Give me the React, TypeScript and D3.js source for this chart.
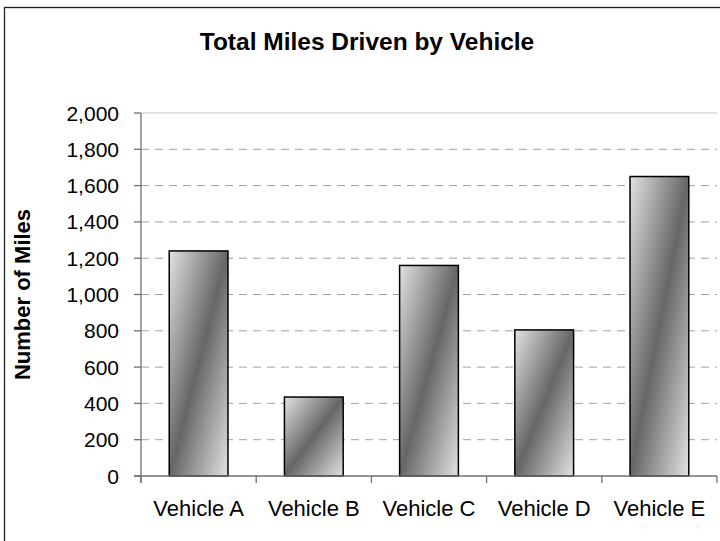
import * as d3 from "d3";

const WIDTH = 720;
const HEIGHT = 541;

const categories = ["Vehicle A", "Vehicle B", "Vehicle C", "Vehicle D", "Vehicle E"];
const miles = [1240, 435, 1160, 805, 1650];
const yTicks = [0, 200, 400, 600, 800, 1000, 1200, 1400, 1600, 1800, 2000];

const PLOT = { left: 141, right: 717, top: 113, bottom: 476 };
const FONT = "'Liberation Sans', Arial, sans-serif";

export default function App() {
  const xScale = d3
    .scaleBand<string>()
    .domain(categories)
    .range([PLOT.left, PLOT.right])
    .padding(0);
  const yScale = d3.scaleLinear().domain([0, 2000]).range([PLOT.bottom, PLOT.top]);
  const fmt = d3.format(",");
  const barW = xScale.bandwidth() * 0.51;

  // band edges for category ticks
  const edges = categories.map((c) => xScale(c) as number).concat([PLOT.right]);

  return (
    <div style={{ position: "absolute", left: 0, top: 0 }}>
      <svg width={WIDTH} height={HEIGHT} style={{ display: "block", background: "white" }}>
        <defs>
          <linearGradient id="barGrad" x1="0" y1="0" x2="1" y2="1">
            <stop offset="0" stopColor="#e2e2e2" />
            <stop offset="0.5" stopColor="#666666" />
            <stop offset="1" stopColor="#e2e2e2" />
          </linearGradient>
        </defs>

        {/* outer frame */}
        <rect x={4.5} y={7.5} width={760} height={600} fill="white" stroke="#222" strokeWidth={1.3} />

        {/* title */}
        <text
          x={367}
          y={50}
          textAnchor="middle"
          fontFamily={FONT}
          fontWeight="bold"
          fontSize={24.5}
          fill="#000"
        >
          Total Miles Driven by Vehicle
        </text>

        {/* gridlines */}
        {yTicks
          .filter((t) => t > 0)
          .map((t) => (
            <line
              key={"g" + t}
              x1={PLOT.left}
              x2={PLOT.right}
              y1={yScale(t)}
              y2={yScale(t)}
              stroke={t === 2000 ? "#d8d8d8" : "#a0a0a0"}
              strokeWidth={t === 2000 ? 1.5 : 1}
              strokeDasharray={t === 2000 ? undefined : "8,6"}
            />
          ))}

        {/* bars */}
        {categories.map((c, i) => {
          const cx = (xScale(c) as number) + xScale.bandwidth() / 2;
          return (
            <rect
              key={c}
              x={cx - barW / 2}
              y={yScale(miles[i])}
              width={barW}
              height={yScale(0) - yScale(miles[i])}
              fill="url(#barGrad)"
              stroke="#000"
              strokeWidth={1.5}
            />
          );
        })}

        {/* y axis */}
        <line x1={PLOT.left} x2={PLOT.left} y1={PLOT.top} y2={PLOT.bottom + 7} stroke="#707070" strokeWidth={1.3} />
        {yTicks.map((t) => (
          <g key={"y" + t}>
            <line x1={PLOT.left - 7} x2={PLOT.left} y1={yScale(t)} y2={yScale(t)} stroke="#707070" strokeWidth={1.3} />
            <text
              x={119}
              y={yScale(t)}
              dy="0.36em"
              textAnchor="end"
              fontFamily={FONT}
              fontSize={21}
              fill="#000"
            >
              {fmt(t)}
            </text>
          </g>
        ))}

        {/* x axis */}
        <line x1={PLOT.left - 7} x2={PLOT.right} y1={PLOT.bottom} y2={PLOT.bottom} stroke="#707070" strokeWidth={1.3} />
        {edges.map((x, i) => (
          <line key={"xt" + i} x1={x} x2={x} y1={PLOT.bottom} y2={PLOT.bottom + 7} stroke="#707070" strokeWidth={1.3} />
        ))}
        {categories.map((c) => (
          <text
            key={"xl" + c}
            x={(xScale(c) as number) + xScale.bandwidth() / 2}
            y={516}
            textAnchor="middle"
            fontFamily={FONT}
            fontSize={22}
            fill="#000"
          >
            {c}
          </text>
        ))}

        {/* y axis title */}
        <text
          transform={`translate(30, ${(PLOT.top + PLOT.bottom) / 2}) rotate(-90)`}
          textAnchor="middle"
          fontFamily={FONT}
          fontWeight="bold"
          fontSize={22}
          fill="#000"
        >
          Number of Miles
        </text>
      </svg>
    </div>
  );
}
